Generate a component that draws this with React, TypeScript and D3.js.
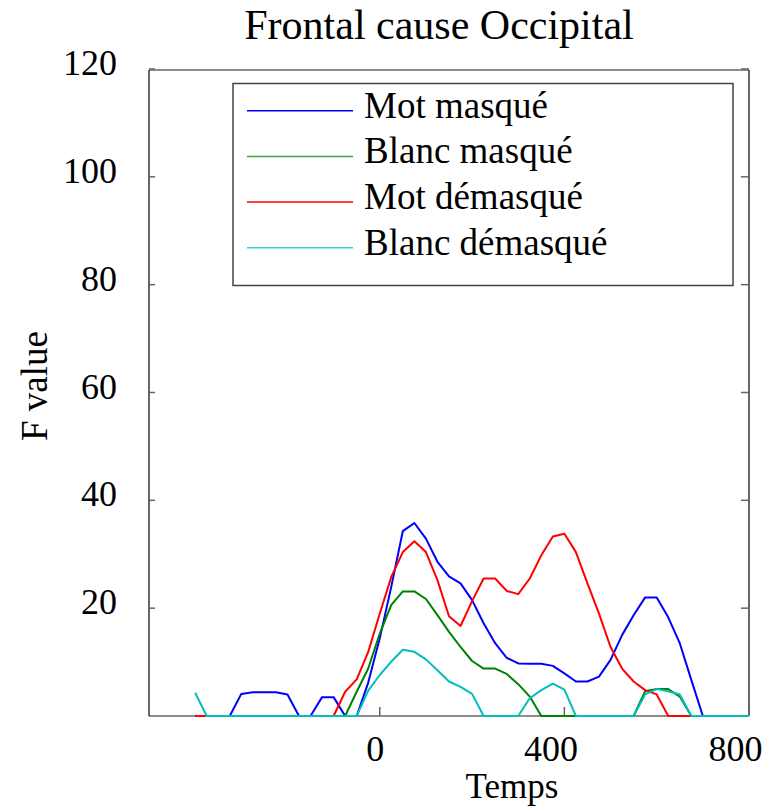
import React from "react";
import * as d3 from "d3";

const times = [-400, -375, -350, -325, -300, -275, -250, -225, -200, -175, -150, -125, -100, -75, -50, -25, 0, 25, 50, 75, 100, 125, 150, 175, 200, 225, 250, 275, 300, 325, 350, 375, 400, 425, 450, 475, 500, 525, 550, 575, 600, 625, 650, 675, 700, 725, 750, 775, 800];

const motMasque = [0, 0, 0, 0, 4.1, 4.4, 4.4, 4.4, 4.0, 0, 0, 3.5, 3.5, 0, 0, 6.2, 14.4, 24, 34.3, 35.8, 32.9, 28.6, 25.9, 24.6, 21.5, 17.2, 13.5, 10.8, 9.75, 9.7, 9.7, 9.3, 7.9, 6.4, 6.4, 7.3, 10.4, 15, 18.7, 22, 22, 18.3, 13.5, 6.7, 0, 0, 0, 0, 0];

const blancMasque = [0, 0, 0, 0, 0, 0, 0, 0, 0, 0, 0, 0, 0, 0, 4.5, 8.8, 15.3, 20.6, 23.1, 23.1, 21.7, 18.7, 15.6, 12.8, 10.2, 8.8, 8.8, 7.8, 5.9, 3.6, 0, 0, 0, 0, 0, 0, 0, 0, 0, 4.6, 5.0, 5.0, 3.6, 0, 0, 0, 0, 0, 0];

const motDemasque = [0, 0, 0, 0, 0, 0, 0, 0, 0, 0, 0, 0, 0, 4.5, 6.8, 11.9, 19, 25.8, 30.4, 32.4, 30.4, 25.2, 18.5, 16.7, 21.3, 25.5, 25.5, 23.2, 22.6, 25.5, 29.8, 33.3, 33.8, 30.4, 24.6, 19, 12.8, 8.8, 6.4, 4.8, 4.0, 0, 0, 0, 0, 0, 0, 0, 0];

const blancDemasque = [4.3, 0, 0, 0, 0, 0, 0, 0, 0, 0, 0, 0, 0, 0, 0, 4.7, 7.6, 10.1, 12.3, 11.9, 10.5, 8.5, 6.4, 5.4, 4.1, 0, 0, 0, 0, 3.3, 4.8, 6.0, 4.9, 0, 0, 0, 0, 0, 0, 4.0, 5.0, 4.6, 4.0, 0, 0, 0, 0, 0, 0];

const seriesNames = ["Mot masqué", "Blanc masqué", "Mot démasqué", "Blanc démasqué"];
const seriesValues = [motMasque, blancMasque, motDemasque, blancDemasque];
const seriesColors = ["#0000ff", "#008000", "#ff0000", "#00bfbf"];
const legendColors = ["#0000ff", "#3f9f3f", "#ff0000", "#3fcfcf"];

const xTicks = [0, 400, 800];
const yTicks = [20, 40, 60, 80, 100, 120];

const title = "Frontal cause Occipital";
const xLabel = "Temps";
const yLabel = "F value";

const W = 767;
const H = 812;
const left = 149;
const right = 749;
const top = 69;
const bottom = 716;
const FONT = "'Liberation Serif', 'Times New Roman', Times, serif";

export default function App() {
  const x = d3.scaleLinear().domain([-500, 800]).range([left, right]);
  const y = d3.scaleLinear().domain([0, 120]).range([bottom, top]);
  const line = d3
    .line<number>()
    .x((_, i) => x(times[i]))
    .y((d) => y(d));

  return (
    <svg
      width={W}
      height={H}
      style={{ position: "absolute", left: 0, top: 0, background: "#fff" }}
      fontFamily={FONT}
    >
      <rect x={0} y={0} width={W} height={H} fill="#fff" />
      {/* title */}
      <text x={439} y={39} fontSize={42} textAnchor="middle" fill="#000">
        {title}
      </text>
      {/* frame */}
      <line x1={left} x2={right} y1={70} y2={70} stroke="#666" strokeWidth={1.5} />
      <line x1={left} x2={right} y1={bottom} y2={bottom} stroke="#666" strokeWidth={1.5} />
      <line x1={left} x2={left} y1={70} y2={bottom} stroke="#000" strokeWidth={1.2} />
      <line x1={right} x2={right} y1={70} y2={bottom} stroke="#000" strokeWidth={1.2} />
      {/* y ticks */}
      {yTicks.map((t) => (
        <g key={"y" + t}>
          <line x1={left} x2={left + 6} y1={y(t)} y2={y(t)} stroke="#666" strokeWidth={1.5} />
          <line x1={right - 8} x2={right} y1={y(t)} y2={y(t)} stroke="#666" strokeWidth={1.5} />
          <text x={117} y={y(t) + 6} fontSize={36} textAnchor="end" fill="#000">
            {t}
          </text>
        </g>
      ))}
      {/* x ticks */}
      {xTicks.map((t) => (
        <g key={"x" + t}>
          <line x1={x(t)} x2={x(t)} y1={bottom} y2={bottom - 9} stroke="#666" strokeWidth={1.5} />
          <text
            x={x(t) - String(t).length * 13.5}
            y={761}
            fontSize={36}
            textAnchor="start"
            fill="#000"
          >
            {t}
          </text>
        </g>
      ))}
      {/* axis labels */}
      <text x={512} y={798} fontSize={35} textAnchor="middle" fill="#000">
        {xLabel}
      </text>
      <text
        transform={`translate(47,386) rotate(-90)`}
        fontSize={37}
        textAnchor="middle"
        fill="#000"
      >
        {yLabel}
      </text>
      {/* series */}
      {seriesValues.map((vals, i) => (
        <path
          key={seriesNames[i]}
          d={line(vals) || ""}
          fill="none"
          stroke={seriesColors[i]}
          strokeWidth={2}
          strokeLinejoin="round"
        />
      ))}
      {/* legend */}
      <rect x={233} y={83.5} width={500} height={202} fill="#fff" stroke="#444" strokeWidth={1.5} />
      {seriesNames.map((name, i) => {
        const ly = 110.7 + i * 45.7;
        return (
          <g key={"leg" + name}>
            <line x1={247} x2={353} y1={ly} y2={ly} stroke={legendColors[i]} strokeWidth={1.5} />
            <text x={364} y={ly + 7} fontSize={37} fill="#000">
              {name}
            </text>
          </g>
        );
      })}
    </svg>
  );
}
